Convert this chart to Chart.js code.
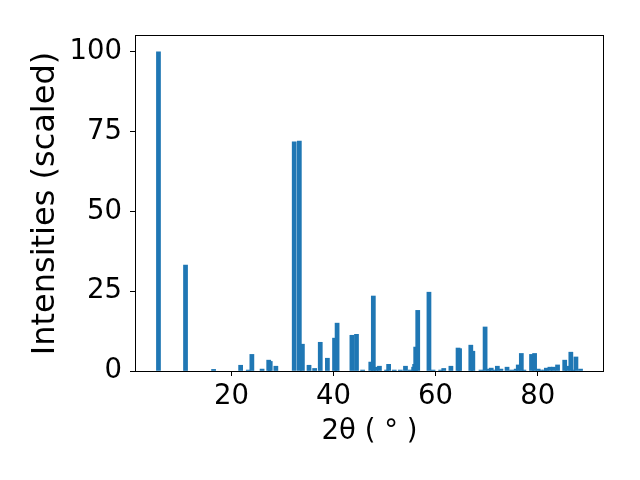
<!DOCTYPE html>
<html>
<head>
<meta charset="utf-8">
<script src="https://cdn.jsdelivr.net/npm/chart.js@4/dist/chart.umd.min.js"></script>
<style>
  body { margin: 0; background: #fff; }
</style>
</head>
<body>
<canvas id="myChart" width="640" height="480"></canvas>
<script>
// peak positions (2 theta, degrees) and scaled intensities
var twoTheta = [5.7, 11.0, 16.5, 21.8, 23.3, 24.0, 26.0, 27.3, 27.6, 28.7,
  32.3, 33.3, 33.9, 35.2, 36.3, 37.4, 38.8, 40.2, 40.7, 43.6,
  44.5, 45.7, 47.3, 47.8, 48.3, 49.0, 50.4, 50.8, 51.9, 53.1,
  54.1, 55.0, 55.7, 55.9, 56.1, 56.5, 58.7, 59.5, 61.0, 61.6,
  63.0, 64.4, 64.7, 66.9, 67.3, 68.9, 69.7, 70.4, 70.9, 71.7,
  72.1, 72.8, 74.0, 74.9, 75.8, 76.2, 76.8, 77.3, 78.8, 79.4,
  80.1, 80.6, 81.4, 81.7, 82.4, 83.1, 83.9, 85.3, 85.8, 86.5,
  86.9, 87.5, 88.4];
var intensity = [100, 33.2, 0.5, 1.8, 0.3, 5.2, 0.6, 3.4, 3.0, 1.5,
  71.8, 72.1, 8.4, 1.8, 0.8, 9.0, 4.0, 10.3, 15.0, 11.2,
  11.5, 0.3, 2.8, 23.5, 1.2, 1.5, 0.3, 2.1, 0.3, 0.3,
  1.5, 0.3, 1.2, 2.1, 7.5, 19.0, 24.7, 0.3, 0.3, 0.8,
  1.5, 7.2, 7.0, 8.1, 6.2, 0.3, 13.8, 0.6, 0.9, 0.3,
  1.5, 0.6, 1.2, 0.3, 0.6, 1.9, 5.5, 0.3, 5.2, 5.5,
  0.6, 0.3, 0.3, 0.9, 1.2, 1.2, 1.9, 3.4, 1.5, 5.9,
  0.3, 4.4, 0.6];
var xTicks = [20, 40, 60, 80];
var yTicks = [0, 25, 50, 75, 100];

var barWidth = 0.8; // in degrees, like matplotlib's default
var tickFont = {family: "'DejaVu Sans', sans-serif", size: 27.5, lineHeight: 1.2};
var xTitleFont = {family: "'DejaVu Sans', sans-serif", size: 27.5, lineHeight: 1.2};
var yTitleFont = {family: "'DejaVu Sans', sans-serif", size: 32, lineHeight: 1.2};

var points = [];
for (var i = 0; i < twoTheta.length; i++) {
  points.push({x: twoTheta[i], y: intensity[i]});
}

// black box round the plot area
var frame = {
  id: 'frame',
  afterDatasetsDraw: function(chart) {
    var a = chart.chartArea, ctx = chart.ctx;
    ctx.save();
    ctx.strokeStyle = '#000';
    ctx.lineWidth = 1;
    ctx.strokeRect(Math.round(a.left) + 0.5, Math.round(a.top) - 0.5,
      Math.round(a.right - a.left) - 1, Math.round(a.bottom - a.top) + 1);
    ctx.restore();
  }
};

var ctx = document.getElementById('myChart').getContext('2d');
var chart = new Chart(ctx, {
  type: 'bar',
  data: {
    datasets: [{
      data: points,
      backgroundColor: '#1f77b4',
      borderWidth: 0,
      barThickness: function(c) {
        var s = c.chart.scales.x;
        return s.getPixelForValue(barWidth) - s.getPixelForValue(0);
      }
    }]
  },
  options: {
    responsive: false,
    animation: false,
    layout: {padding: {top: 36, right: 36, left: 0, bottom: 0}},
    plugins: {legend: {display: false}, tooltip: {enabled: false}},
    scales: {
      x: {
        type: 'linear',
        min: 1.1,
        max: 93,
        offset: false,
        afterBuildTicks: function(s) { s.ticks = xTicks.map(function(v) { return {value: v}; }); },
        afterFit: function(s) { s.height = 109; },
        grid: {display: true, offset: false, drawOnChartArea: false, drawTicks: true, tickLength: 5, color: '#000'},
        border: {display: false},
        ticks: {font: tickFont, color: '#000', padding: 4, maxRotation: 0, autoSkip: false},
        title: {display: true, text: '2θ ( ° )', font: xTitleFont, color: '#000', padding: {top: 0, bottom: 32}}
      },
      y: {
        min: 0,
        max: 105,
        afterBuildTicks: function(s) { s.ticks = yTicks.map(function(v) { return {value: v}; }); },
        afterFit: function(s) { s.width = 135; },
        grid: {display: true, drawOnChartArea: false, drawTicks: true, tickLength: 5, color: '#000'},
        border: {display: false},
        ticks: {font: tickFont, color: '#000', padding: 8},
        title: {display: true, text: 'Intensities (scaled)', font: yTitleFont, color: '#000', padding: {top: 26, bottom: 0}}
      }
    }
  },
  plugins: [frame]
});
</script>
</body>
</html>
